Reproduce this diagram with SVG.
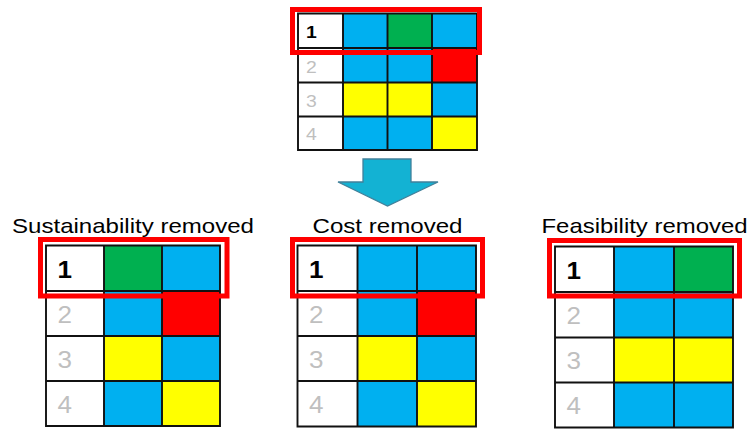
<svg xmlns="http://www.w3.org/2000/svg" width="749" height="429" viewBox="0 0 749 429">
  <style>
    .b { fill: #00B0F0; }
    .g { fill: #00B050; }
    .r { fill: #FF0000; }
    .y { fill: #FFFF00; }
    .w { fill: #FFFFFF; }
    .grid { fill: none; stroke: #111; stroke-width: 1.9; }
    .sel { fill: none; stroke: #FF0000; stroke-width: 5; }
    .title { font-family: "Liberation Sans", Arial, sans-serif; font-size: 21px; fill: #000; text-anchor: middle; }
    .n1 { font-family: "Liberation Sans", Arial, sans-serif; font-weight: bold; fill: #000; }
    .nx { font-family: "Liberation Sans", Arial, sans-serif; fill: #BFBFBF; }
    .small { font-size: 17px; }
    .big { font-size: 23px; }
  </style>

  <rect width="749" height="429" fill="#FFFFFF"/>

  <!-- full ranking table -->
  <g id="table-all">
    <rect class="w" x="298" y="13.5" width="45" height="34.5"/>
    <rect class="b" x="343" y="13.5" width="44.5" height="34.5"/>
    <rect class="g" x="387.5" y="13.5" width="44.5" height="34.5"/>
    <rect class="b" x="432" y="13.5" width="45" height="34.5"/>

    <rect class="w" x="298" y="48" width="45" height="34.5"/>
    <rect class="b" x="343" y="48" width="44.5" height="34.5"/>
    <rect class="b" x="387.5" y="48" width="44.5" height="34.5"/>
    <rect class="r" x="432" y="48" width="45" height="34.5"/>

    <rect class="w" x="298" y="82.5" width="45" height="34"/>
    <rect class="y" x="343" y="82.5" width="44.5" height="34"/>
    <rect class="y" x="387.5" y="82.5" width="44.5" height="34"/>
    <rect class="b" x="432" y="82.5" width="45" height="34"/>

    <rect class="w" x="298" y="116.5" width="45" height="33.5"/>
    <rect class="b" x="343" y="116.5" width="44.5" height="33.5"/>
    <rect class="b" x="387.5" y="116.5" width="44.5" height="33.5"/>
    <rect class="y" x="432" y="116.5" width="45" height="33.5"/>

    <path class="grid" d="M298 13.5H477V150H298Z M343 13.5V150 M387.5 13.5V150 M432 13.5V150 M298 48H477 M298 82.5H477 M298 116.5H477"/>

    <text class="n1 small" x="306" y="38" textLength="10.8" lengthAdjust="spacingAndGlyphs">1</text>
    <text class="nx small" x="306" y="72.5" textLength="10.8" lengthAdjust="spacingAndGlyphs">2</text>
    <text class="nx small" x="306" y="106.5" textLength="10.8" lengthAdjust="spacingAndGlyphs">3</text>
    <text class="nx small" x="306" y="140" textLength="10.8" lengthAdjust="spacingAndGlyphs">4</text>

    <rect class="sel" x="292.5" y="9.5" width="187" height="43"/>
  </g>

  <!-- Sustainability removed -->
  <g id="table-sustainability">
    <text class="title" x="133" y="233" textLength="242" lengthAdjust="spacingAndGlyphs">Sustainability removed</text>

    <rect class="w" x="46" y="245.5" width="58" height="45.5"/>
    <rect class="g" x="104" y="245.5" width="58" height="45.5"/>
    <rect class="b" x="162" y="245.5" width="58" height="45.5"/>

    <rect class="w" x="46" y="291" width="58" height="45"/>
    <rect class="b" x="104" y="291" width="58" height="45"/>
    <rect class="r" x="162" y="291" width="58" height="45"/>

    <rect class="w" x="46" y="336" width="58" height="45"/>
    <rect class="y" x="104" y="336" width="58" height="45"/>
    <rect class="b" x="162" y="336" width="58" height="45"/>

    <rect class="w" x="46" y="381" width="58" height="45"/>
    <rect class="b" x="104" y="381" width="58" height="45"/>
    <rect class="y" x="162" y="381" width="58" height="45"/>

    <path class="grid" d="M46 245.5H220V426H46Z M104 245.5V426 M162 245.5V426 M46 291H220 M46 336H220 M46 381H220"/>

    <text class="n1 big" x="57.5" y="277.5" textLength="14.5" lengthAdjust="spacingAndGlyphs">1</text>
    <text class="nx big" x="57.5" y="322.5" textLength="14.5" lengthAdjust="spacingAndGlyphs">2</text>
    <text class="nx big" x="57.5" y="367.5" textLength="14.5" lengthAdjust="spacingAndGlyphs">3</text>
    <text class="nx big" x="57.5" y="412.5" textLength="14.5" lengthAdjust="spacingAndGlyphs">4</text>

    <rect class="sel" x="40.5" y="239.5" width="186.5" height="56.5"/>
  </g>

  <!-- Cost removed -->
  <g id="table-cost">
    <text class="title" x="387.5" y="233" textLength="150" lengthAdjust="spacingAndGlyphs">Cost removed</text>

    <rect class="w" x="297.5" y="245.5" width="60" height="45.5"/>
    <rect class="b" x="357.5" y="245.5" width="59.5" height="45.5"/>
    <rect class="b" x="417" y="245.5" width="59" height="45.5"/>

    <rect class="w" x="297.5" y="291" width="60" height="45"/>
    <rect class="b" x="357.5" y="291" width="59.5" height="45"/>
    <rect class="r" x="417" y="291" width="59" height="45"/>

    <rect class="w" x="297.5" y="336" width="60" height="45"/>
    <rect class="y" x="357.5" y="336" width="59.5" height="45"/>
    <rect class="b" x="417" y="336" width="59" height="45"/>

    <rect class="w" x="297.5" y="381" width="60" height="45.5"/>
    <rect class="b" x="357.5" y="381" width="59.5" height="45.5"/>
    <rect class="y" x="417" y="381" width="59" height="45.5"/>

    <path class="grid" d="M297.5 245.5H476V426.5H297.5Z M357.5 245.5V426.5 M417 245.5V426.5 M297.5 291H476 M297.5 336H476 M297.5 381H476"/>

    <text class="n1 big" x="309" y="277.5" textLength="14.5" lengthAdjust="spacingAndGlyphs">1</text>
    <text class="nx big" x="309" y="322.5" textLength="14.5" lengthAdjust="spacingAndGlyphs">2</text>
    <text class="nx big" x="309" y="367.5" textLength="14.5" lengthAdjust="spacingAndGlyphs">3</text>
    <text class="nx big" x="309" y="412.5" textLength="14.5" lengthAdjust="spacingAndGlyphs">4</text>

    <rect class="sel" x="292.5" y="239.5" width="190" height="56.5"/>
  </g>

  <!-- Feasibility removed -->
  <g id="table-feasibility">
    <text class="title" x="644.5" y="233" textLength="206" lengthAdjust="spacingAndGlyphs">Feasibility removed</text>

    <rect class="w" x="555" y="246.5" width="59" height="45.5"/>
    <rect class="b" x="614" y="246.5" width="60" height="45.5"/>
    <rect class="g" x="674" y="246.5" width="59" height="45.5"/>

    <rect class="w" x="555" y="292" width="59" height="45.5"/>
    <rect class="b" x="614" y="292" width="60" height="45.5"/>
    <rect class="b" x="674" y="292" width="59" height="45.5"/>

    <rect class="w" x="555" y="337.5" width="59" height="45"/>
    <rect class="y" x="614" y="337.5" width="60" height="45"/>
    <rect class="y" x="674" y="337.5" width="59" height="45"/>

    <rect class="w" x="555" y="382.5" width="59" height="45"/>
    <rect class="b" x="614" y="382.5" width="60" height="45"/>
    <rect class="b" x="674" y="382.5" width="59" height="45"/>

    <path class="grid" d="M555 246.5H733V427.5H555Z M614 246.5V427.5 M674 246.5V427.5 M555 292H733 M555 337.5H733 M555 382.5H733"/>

    <text class="n1 big" x="566.5" y="278.5" textLength="14.5" lengthAdjust="spacingAndGlyphs">1</text>
    <text class="nx big" x="566.5" y="323.5" textLength="14.5" lengthAdjust="spacingAndGlyphs">2</text>
    <text class="nx big" x="566.5" y="368.5" textLength="14.5" lengthAdjust="spacingAndGlyphs">3</text>
    <text class="nx big" x="566.5" y="413.5" textLength="14.5" lengthAdjust="spacingAndGlyphs">4</text>

    <rect class="sel" x="549.5" y="240.5" width="190" height="55.5"/>
  </g>

  <!-- connector: block arrow from the full table down to the variants -->
  <g id="connectors">
    <polygon points="363,159 411,159 411,182 438,182 387.5,206 338,182 363,182" fill="#13B2D3" stroke="#41809A" stroke-width="1.3" stroke-linejoin="miter"/>
  </g>
</svg>
